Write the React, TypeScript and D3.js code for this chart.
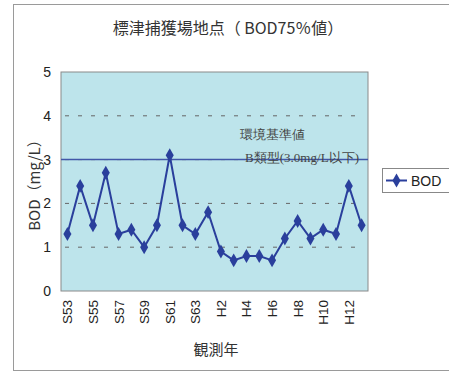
import { useEffect, useRef } from 'react';
import * as d3 from 'd3';

const years = [
  'S53', 'S54', 'S55', 'S56', 'S57', 'S58', 'S59', 'S60', 'S61', 'S62', 'S63',
  'H1', 'H2', 'H3', 'H4', 'H5', 'H6', 'H7', 'H8', 'H9', 'H10', 'H11', 'H12', 'H13',
];
const bod = [
  1.3, 2.4, 1.5, 2.7, 1.3, 1.4, 1.0, 1.5, 3.1, 1.5, 1.3, 1.8,
  0.9, 0.7, 0.8, 0.8, 0.7, 1.2, 1.6, 1.2, 1.4, 1.3, 2.4, 1.5,
];
const yTicks = [0, 1, 2, 3, 4, 5];
const xLabels = ['S53', 'S55', 'S57', 'S59', 'S61', 'S63', 'H2', 'H4', 'H6', 'H8', 'H10', 'H12'];
const standard = 3.0;

export default function App() {
  const svgRef = useRef<SVGSVGElement>(null);

  useEffect(() => {
    if (!svgRef.current) return;
    const svg = d3.select(svgRef.current);
    svg.selectAll('*').remove();

    const W = 449;
    const H = 373;
    const plot = { left: 61, right: 368, top: 72, bottom: 291 };
    const lineColor = '#2a3f9c';
    const sans = '"Liberation Sans", Arial, "Noto Sans CJK JP", sans-serif';
    const cjk = '"Noto Sans CJK JP", sans-serif';

    svg.append('rect').attr('width', W).attr('height', H).attr('fill', '#fff');

    // outer chart frame
    svg.append('rect')
      .attr('x', 13.5).attr('y', 4.5)
      .attr('width', W).attr('height', 366)
      .attr('fill', 'none').attr('stroke', '#9a9a9a').attr('stroke-width', 1);

    const x = d3.scaleBand<string>().domain(years).range([plot.left, plot.right]);
    const y = d3.scaleLinear().domain([0, 5]).range([plot.bottom, plot.top]);
    const cx = (d: string) => (x(d) ?? 0) + x.bandwidth() / 2;

    // plot background
    svg.append('rect')
      .attr('x', plot.left).attr('y', plot.top)
      .attr('width', plot.right - plot.left).attr('height', plot.bottom - plot.top)
      .attr('fill', '#bde4eb').attr('stroke', '#8a8a8a').attr('stroke-width', 1);

    // dashed gridlines
    svg.append('g')
      .selectAll('line')
      .data(yTicks.filter((t) => t > 0 && t < 5))
      .join('line')
      .attr('x1', plot.left + 4).attr('x2', plot.right - 4)
      .attr('y1', (d) => y(d)).attr('y2', (d) => y(d))
      .attr('stroke', '#666').attr('stroke-width', 1)
      .attr('stroke-dasharray', '4,9');

    // y tick labels
    svg.append('g')
      .selectAll('text')
      .data(yTicks)
      .join('text')
      .attr('x', 51).attr('y', (d) => y(d) + 5)
      .attr('text-anchor', 'end')
      .attr('font-family', sans).attr('font-size', 14).attr('fill', '#222')
      .text((d) => d);

    // x tick labels
    svg.append('g')
      .selectAll('text')
      .data(xLabels)
      .join('text')
      .attr('transform', (d) => `translate(${cx(d) + 5},${plot.bottom + 9}) rotate(-90)`)
      .attr('text-anchor', 'end')
      .attr('font-family', sans).attr('font-size', 13.5).attr('fill', '#222')
      .text((d) => d);

    // standard line
    svg.append('line')
      .attr('x1', plot.left).attr('x2', plot.right)
      .attr('y1', y(standard)).attr('y2', y(standard))
      .attr('stroke', '#4257a8').attr('stroke-width', 1.5);

    svg.append('text')
      .attr('x', 240).attr('y', 139)
      .attr('font-family', 'serif').attr('font-size', 13).attr('fill', '#444')
      .text('環境基準値');
    svg.append('text')
      .attr('x', 245).attr('y', 162)
      .attr('font-family', 'serif').attr('font-size', 13).attr('fill', '#444')
      .attr('textLength', 114)
      .text('B類型(3.0mg/L以下)');

    // series line
    const line = d3.line<number>()
      .x((_, i) => cx(years[i]))
      .y((d) => y(d));
    svg.append('path')
      .datum(bod)
      .attr('d', line)
      .attr('fill', 'none').attr('stroke', lineColor).attr('stroke-width', 2);

    const diamond = d3.symbol().type(d3.symbolDiamond).size(56);
    svg.append('g')
      .selectAll('path')
      .data(bod)
      .join('path')
      .attr('transform', (d, i) => `translate(${cx(years[i])},${y(d)})`)
      .attr('d', diamond)
      .attr('fill', lineColor);

    // titles
    svg.append('text')
      .attr('x', 228).attr('y', 34)
      .attr('text-anchor', 'middle')
      .attr('font-family', cjk).attr('font-size', 16).attr('fill', '#333')
      .text('標津捕獲場地点（ BOD75％値）');

    svg.append('text')
      .attr('transform', `translate(40,${(plot.top + plot.bottom) / 2}) rotate(-90)`)
      .attr('text-anchor', 'middle')
      .attr('font-family', cjk).attr('font-size', 15).attr('fill', '#333')
      .text('BOD（mg/L）');

    svg.append('text')
      .attr('x', 216).attr('y', 355)
      .attr('text-anchor', 'middle')
      .attr('font-family', cjk).attr('font-size', 15).attr('fill', '#333')
      .text('観測年');

    // legend
    const lg = svg.append('g').attr('transform', 'translate(382,168)');
    lg.append('rect')
      .attr('x', 0.5).attr('y', 0.5).attr('width', 80).attr('height', 24)
      .attr('fill', '#fff').attr('stroke', '#888');
    lg.append('line')
      .attr('x1', 4).attr('x2', 25).attr('y1', 12.5).attr('y2', 12.5)
      .attr('stroke', lineColor).attr('stroke-width', 2);
    lg.append('path')
      .attr('transform', 'translate(14.5,12.5)')
      .attr('d', diamond)
      .attr('fill', lineColor);
    lg.append('text')
      .attr('x', 29).attr('y', 18)
      .attr('font-family', sans).attr('font-size', 14).attr('fill', '#222')
      .text('BOD');
  }, []);

  return (
    <svg
      ref={svgRef}
      width={449}
      height={373}
      style={{ position: 'absolute', left: 0, top: 0 }}
    />
  );
}
